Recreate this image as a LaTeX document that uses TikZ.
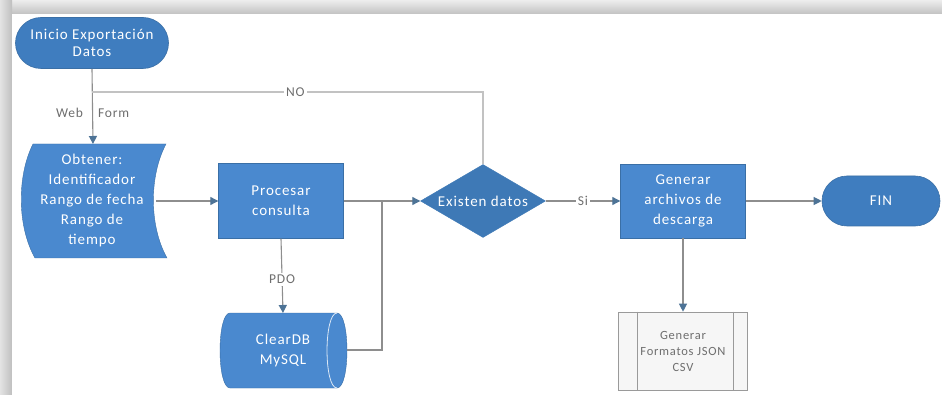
\documentclass[tikz,border=0pt]{standalone}
\usepackage{fontspec}
\setmainfont{Carlito}[LetterSpace=6]
\usetikzlibrary{shapes.geometric,shapes.misc,arrows.meta}

\definecolor{boxblue}{HTML}{4A89CF}
\definecolor{termblue}{HTML}{3F7DBF}
\definecolor{diablue}{HTML}{3E79B6}
\definecolor{edgeblue}{HTML}{3A6FA6}
\definecolor{wire}{HTML}{8E8E8E}
\definecolor{wirelight}{HTML}{C2C2C2}
\definecolor{tipcol}{HTML}{4D7396}
\definecolor{labelgray}{HTML}{6E6E6E}
\definecolor{subfill}{HTML}{F6F6F6}
\definecolor{subedge}{HTML}{9A9A9A}

\tikzset{
  every node/.style={font=\fontsize{15}{20}\selectfont, text=white, align=center},
  terminal/.style={rounded rectangle, fill=termblue, draw=edgeblue, line width=0.6pt, inner sep=0pt},
  procbox/.style={rectangle, fill=boxblue, draw=edgeblue, line width=0.4pt, minimum width=125pt, minimum height=75pt, inner sep=0pt},
  decision/.style={diamond, fill=diablue, draw=diablue, inner sep=0pt, minimum width=125pt, minimum height=73pt},
  ghost/.style={inner sep=0pt},
  flowline/.style={draw=wire, line width=1.1pt},
  flowarrow/.style={flowline, -{Triangle[length=8pt, width=8pt, color=tipcol]}},
  edgelabel/.style={font=\fontsize{13.5}{15}\selectfont, text=labelgray, fill=white, inner sep=2pt},
  openlabel/.style={font=\fontsize{13.5}{15}\selectfont, text=labelgray, inner sep=1pt},
}

\begin{document}
\begin{tikzpicture}[x=1pt, y=-1pt]
  \useasboundingbox (0,0) rectangle (942,395);
  % page shadow along the top and left edges
  \shade[top color=gray!14, bottom color=gray!48] (0,0) rectangle (942,14);
  \shade[left color=gray!22, right color=gray!50] (0,0) rectangle (12,395);
  \fill[white] (12,14) rectangle (942,395);

  % start terminal
  \node[terminal, minimum width=153pt, minimum height=51pt] (start) at (92,43) {Inicio Exportación\\[-3pt]Datos};

  % input (stored data shape) with its text
  \fill[boxblue, draw=edgeblue, line width=0.4pt]
    (33,144) -- (166,144) .. controls (149,176) and (149,226) .. (167,258)
    -- (35,258) .. controls (17,226) and (17,176) .. (33,144) -- cycle;
  \node[ghost] (obt) at (92,201) {Obtener:\\Identificador\\Rango de fecha\\Rango de\\tiempo};
  \coordinate (obtE) at (156,201);
  \coordinate (obtN) at (93,144);

  % processing steps
  \node[procbox] (proc) at (281,201) {Procesar\\consulta};
  \node[decision] (dec) at (483,201) {};
  \node[ghost] (dectext) at (dec.center) {Existen datos};
  \node[procbox, minimum height=74pt] (gen) at (683,201) {Generar\\archivos de\\descarga};
  \node[terminal, minimum width=118pt, minimum height=50pt] (fin) at (881,201) {FIN};

  % database (horizontal cylinder)
  \fill[boxblue, draw=edgeblue, line width=0.4pt]
    (230,313) -- (337,313) .. controls (350.3,313) and (350.3,388) .. (337,388)
    -- (230,388) .. controls (216.7,388) and (216.7,313) .. (230,313) -- cycle;
  \draw[white!80!boxblue, line width=0.8pt]
    (337,313) .. controls (323.7,313) and (323.7,388) .. (337,388);
  \node[ghost] (db) at (283,350) {ClearDB\\MySQL};
  \coordinate (dbN) at (283,313);
  \coordinate (dbE) at (347,350);

  % predefined process
  \node[rectangle, fill=subfill, draw=subedge, line width=0.6pt, minimum width=129pt,
        minimum height=78pt, inner sep=0pt, text=labelgray,
        font=\fontsize{12.5}{16}\selectfont] (fmt) at (683,351) {Generar\\Formatos JSON\\CSV};
  \draw[subedge, line width=0.6pt] ([xshift=19pt]fmt.north west) -- ([xshift=19pt]fmt.south west);
  \draw[subedge, line width=0.6pt] ([xshift=-15pt]fmt.north east) -- ([xshift=-15pt]fmt.south east);

  % connectors
  \coordinate (loop) at (start.south |- 0,92);
  \draw[flowarrow] (start.south) -- node[openlabel, pos=0.59] {Web\hspace{15pt}Form} (obtN);
  \draw[draw=wirelight, line width=1.8pt] (dec.north) |- node[edgelabel, pos=0.74] {NO} (loop);
  \draw[flowarrow] (obtE) -- (proc.west);
  \draw[flowarrow] (proc.east) -- (dec.west);
  \coordinate (join) at (382,201);
  \draw[flowline] (dbE) -| (join);
  \draw[flowarrow] (proc.south) -- node[edgelabel, pos=0.55] {PDO} (dbN);
  \draw[flowarrow] (dec.east) -- node[edgelabel, pos=0.5] {Si} (gen.west);
  \draw[flowarrow] (gen.east) -- (fin.west);
  \draw[flowarrow] (gen.south) -- (fmt.north);
\end{tikzpicture}
\end{document}
